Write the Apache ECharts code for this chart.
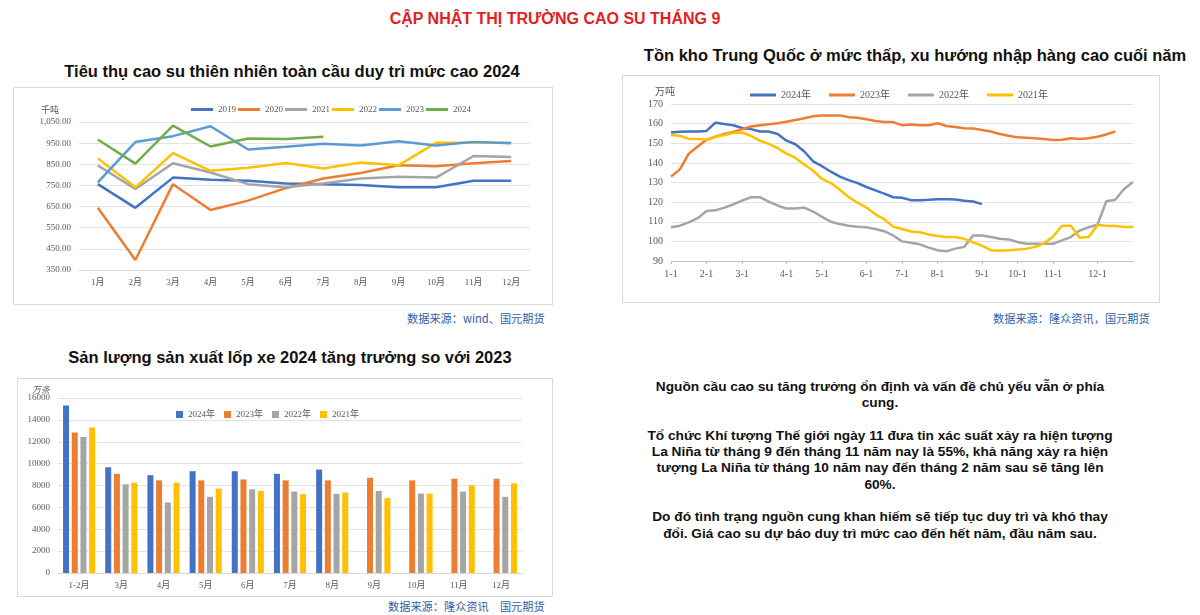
<!DOCTYPE html>
<html>
<head>
<meta charset="utf-8">
<script src="https://cdn.jsdelivr.net/npm/echarts@6/dist/echarts.min.js"></script>
<style>
  body { margin: 0; background: #fff; width: 1200px; height: 615px; position: relative; overflow: hidden; font-family: 'Liberation Sans', Arial, sans-serif; }
  .box { position: absolute; border: 1px solid #d9d9d9; box-sizing: border-box; background: #fff; }
  .ttl { position: absolute; text-align: center; font-weight: bold; font-size: 16.5px; color: #111; white-space: nowrap; }
  .src { position: absolute; font-family: 'Noto Sans CJK SC', sans-serif; font-size: 11.2px; color: #2f5ea8; white-space: nowrap; }
  #note { position: absolute; left: 630px; width: 500px; top: 379px; text-align: center; font-weight: bold; font-size: 13.7px; line-height: 16.3px; color: #111; white-space: nowrap; }
</style>
</head>
<body>
<div class="ttl" style="left:355px;width:400px;top:10px;font-size:16px;color:#e31e24;">CẬP NHẬT THỊ TRƯỜNG CAO SU THÁNG 9</div>

<div class="ttl" style="left:42px;width:500px;top:62px;">Tiêu thụ cao su thiên nhiên toàn cầu duy trì mức cao 2024</div>
<div class="box" id="c1" style="left:13px;top:87px;width:540px;height:218px;"></div>
<div class="src" style="left:407px;top:310px;">数据来源：wind、国元期货</div>

<div class="ttl" style="left:615px;width:600px;top:46px;">Tồn kho Trung Quốc ở mức thấp, xu hướng nhập hàng cao cuối năm</div>
<div class="box" id="c2" style="left:622px;top:75px;width:538px;height:228px;"></div>
<div class="src" style="left:993px;top:310px;">数据来源：隆众资讯，国元期货</div>

<div class="ttl" style="left:40px;width:500px;top:348px;">Sản lượng sản xuất lốp xe 2024 tăng trưởng so với 2023</div>
<div class="box" id="c3" style="left:17px;top:378px;width:536px;height:219px;"></div>
<div class="src" style="left:388px;top:598px;">数据来源：隆众资讯　国元期货</div>

<div id="note">
Nguồn cầu cao su tăng trưởng ổn định và vấn đề chủ yếu vẫn ở phía<br>
cung.<br>
<br>
Tổ chức Khí tượng Thế giới ngày 11 đưa tin xác suất xảy ra hiện tượng<br>
La Niña từ tháng 9 đến tháng 11 năm nay là 55%, khả năng xảy ra hiện<br>
tượng La Niña từ tháng 10 năm nay đến tháng 2 năm sau sẽ tăng lên<br>
60%.<br>
<br>
Do đó tình trạng nguồn cung khan hiếm sẽ tiếp tục duy trì và khó thay<br>
đổi. Giá cao su dự báo duy trì mức cao đến hết năm, đầu năm sau.
</div>

<script>
// ---- chart 1: 全球天然橡胶消费 (千吨)
const months1 = ['1月', '2月', '3月', '4月', '5月', '6月', '7月', '8月', '9月', '10月', '11月', '12月']
const y2019 = [756, 644, 787, 777, 772, 759, 756, 752, 741, 741, 772, 772]
const y2020 = [644, 397, 756, 634, 678, 737, 783, 809, 845, 841, 855, 866]
const y2021 = [845, 733, 855, 811, 756, 741, 759, 783, 791, 787, 889, 884]
const y2022 = [878, 741, 903, 819, 834, 856, 830, 859, 845, 952, 952, 952]
const y2023 = [764, 955, 983, 1030, 920, 933, 947, 939, 959, 939, 956, 950]
const y2024 = [967, 853, 1033, 934, 972, 970, 980]

// ---- chart 2: 中国库存 (万吨), weekly
const monthTicks = ['1-1', '2-1', '3-1', '4-1', '5-1', '6-1', '7-1', '8-1', '9-1', '10-1', '11-1', '12-1']
const monthWeek = [0, 4, 8, 13, 17, 22, 26, 30, 35, 39, 43, 48]
const inv2024 = [155.5, 155.8, 156, 156, 156.3, 160.5, 159.8, 159.2, 157.8, 157.2, 156, 156, 154.7, 151.3, 149.5, 145.8, 140.8, 138.3, 135.5, 133, 131.2, 129.7, 127.7, 126, 124.3, 122.5, 122.2, 121, 121, 121.2, 121.5, 121.5, 121.3, 120.7, 120.3, 119]
const inv2023 = [133, 136.7, 144.7, 148.3, 151.8, 153.3, 154.7, 155.8, 157.2, 158.5, 159.2, 159.7, 160.2, 161, 161.8, 162.7, 163.8, 164.2, 164.2, 164.2, 163.3, 163, 162.2, 161.3, 160.8, 160.8, 159.2, 159.5, 159.2, 159.2, 160.2, 158.8, 158.3, 157.7, 157.5, 156.8, 156, 154.7, 153.8, 153, 152.8, 152.5, 152.2, 151.7, 151.8, 152.5, 152.2, 152.5, 153.3, 154.5, 156]
const inv2022 = [107.2, 108, 109.7, 111.8, 115.5, 115.8, 117.2, 118.8, 120.8, 122.5, 122.5, 120.2, 118.3, 116.7, 116.7, 117.2, 115.2, 112.5, 110, 108.8, 108, 107.5, 107.2, 106.3, 105.2, 103, 100, 99.3, 98.5, 96.8, 95.5, 95, 96.3, 97.2, 103, 103, 102.2, 101.3, 101, 99.7, 98.8, 98.8, 98.8, 98.8, 100.5, 102.2, 105.5, 107.2, 108.5, 120.5, 121.2, 126.7, 130.2]
const inv2021 = [154.2, 153.8, 152.2, 152.2, 151.8, 153.3, 154.2, 155.2, 155.5, 153.8, 151.3, 149.7, 147.5, 144.7, 142.5, 139.2, 136, 131.8, 129.7, 126.3, 122.5, 119.7, 117.2, 113.8, 111.3, 107.5, 106.3, 105, 104.7, 103.5, 102.7, 102.2, 102.2, 101.3, 99.5, 97.8, 95.5, 95.2, 95.5, 95.8, 96.3, 97.2, 99, 102.5, 108, 108, 101.8, 102.2, 108.3, 108, 107.8, 107.3, 107.3]

// ---- chart 3: 轮胎产量 (万条)
const months3 = ['1-2月', '3月', '4月', '5月', '6月', '7月', '8月', '9月', '10月', '11月', '12月']
const tyre2024 = [15310, 9667, 8946, 9306, 9306, 9066, 9456, null, null, null, null]
const tyre2023 = [12849, 9066, 8466, 8466, 8556, 8466, 8466, 8706, 8466, 8616, 8616]
const tyre2022 = [12428, 8105, 6454, 6965, 7655, 7445, 7235, 7505, 7265, 7445, 6965]
const tyre2021 = [13299, 8255, 8255, 7715, 7505, 7205, 7355, 6845, 7265, 8015, 8195]

const serif = "'Liberation Serif', 'Noto Sans CJK SC', serif"
const labelStyle = { fontFamily: serif, fontSize: 9, color: '#595959' }
const gridColor = '#e3e3e3'

const lineSeries = (name, data, color) => ({
  name: name,
  type: 'line',
  data: data,
  showSymbol: false,
  symbol: 'none',
  lineStyle: { width: 2.5, color: color },
  itemStyle: { color: color }
})

// chart 1
const chart1 = echarts.init(document.getElementById('c1'))
chart1.setOption({
  animation: false,
  title: { text: '千吨', left: 22, top: 13, textStyle: { fontFamily: serif, fontSize: 9, fontWeight: 'normal', color: '#595959' } },
  legend: {
    left: 172, top: 12, itemWidth: 22, itemHeight: 3, itemGap: 2, icon: 'rect',
    textStyle: labelStyle
  },
  grid: { left: 65, right: 22, top: 34, bottom: 34 },
  xAxis: {
    type: 'category', data: months1,
    axisLine: { lineStyle: { color: '#d9d9d9' } },
    axisTick: { show: false },
    axisLabel: labelStyle
  },
  yAxis: {
    type: 'value', min: 350, max: 1050, interval: 50,
    axisLine: { show: false }, axisTick: { show: false },
    axisLabel: Object.assign({}, labelStyle, {
      formatter: function (v) {
        // 只显示 350, 450 ... 1050
        if ((v - 350) % 100 !== 0) return ''
        return v.toLocaleString('en-US', { minimumFractionDigits: 2, maximumFractionDigits: 2 })
      }
    }),
    splitLine: { lineStyle: { color: [gridColor, 'rgba(0,0,0,0)'] } }
  },
  series: [
    lineSeries('2019', y2019, '#4472C4'),
    lineSeries('2020', y2020, '#ED7D31'),
    lineSeries('2021', y2021, '#A5A5A5'),
    lineSeries('2022', y2022, '#FFC000'),
    lineSeries('2023', y2023, '#5B9BD5'),
    lineSeries('2024', y2024, '#70AD47')
  ]
})

// chart 2
const weekIdx = inv2022.map((v, i) => String(i))
const chart2 = echarts.init(document.getElementById('c2'))
chart2.setOption({
  animation: false,
  title: { text: '万吨', left: 27, top: 6, textStyle: { fontFamily: serif, fontSize: 10, fontWeight: 'normal', color: '#595959' } },
  legend: {
    left: 122, top: 9, itemWidth: 26, itemHeight: 3, itemGap: 18, icon: 'rect',
    textStyle: { fontFamily: serif, fontSize: 10, color: '#595959' }
  },
  grid: { left: 48, right: 26, top: 28, bottom: 41 },
  xAxis: {
    type: 'category', data: weekIdx, boundaryGap: false,
    axisLine: { lineStyle: { color: '#bfbfbf' } },
    axisTick: { show: true, length: 3, lineStyle: { color: '#bfbfbf' }, interval: function (i) { return monthWeek.indexOf(i) >= 0 } },
    axisLabel: Object.assign({}, labelStyle, {
      fontSize: 10,
      interval: function (i) { return monthWeek.indexOf(i) >= 0 },
      formatter: function (v, i) { return monthTicks[monthWeek.indexOf(i)] || '' }
    })
  },
  yAxis: {
    type: 'value', min: 90, max: 170, interval: 10,
    axisLine: { show: false }, axisTick: { show: false },
    axisLabel: Object.assign({}, labelStyle, { fontSize: 10 }),
    splitLine: { lineStyle: { color: gridColor } }
  },
  series: [
    lineSeries('2024年', inv2024, '#4472C4'),
    lineSeries('2023年', inv2023, '#ED7D31'),
    lineSeries('2022年', inv2022, '#A5A5A5'),
    lineSeries('2021年', inv2021, '#FFC000')
  ]
})

// chart 3
const barSeries = (name, data, color) => ({
  name: name, type: 'bar', data: data, barWidth: 6, barGap: '45%',
  itemStyle: { color: color }
})
const chart3 = echarts.init(document.getElementById('c3'))
chart3.setOption({
  animation: false,
  title: { text: '万条', left: 9, top: 2, textStyle: { fontFamily: serif, fontSize: 9, fontStyle: 'italic', fontWeight: 'normal', color: '#595959' } },
  legend: {
    left: 153, top: 26, itemWidth: 7, itemHeight: 7, itemGap: 9, icon: 'rect',
    textStyle: labelStyle
  },
  grid: { left: 40, right: 30, top: 19, bottom: 23 },
  xAxis: {
    type: 'category', data: months3,
    axisLine: { lineStyle: { color: '#d9d9d9' } },
    axisTick: { show: false },
    axisLabel: labelStyle
  },
  yAxis: {
    type: 'value', min: 0, max: 16000, interval: 2000,
    axisLine: { show: false }, axisTick: { show: false },
    axisLabel: Object.assign({}, labelStyle, { formatter: function (v) { return String(v) } }),
    splitLine: { lineStyle: { color: gridColor } }
  },
  series: [
    barSeries('2024年', tyre2024, '#4472C4'),
    barSeries('2023年', tyre2023, '#ED7D31'),
    barSeries('2022年', tyre2022, '#A5A5A5'),
    barSeries('2021年', tyre2021, '#FFC000')
  ]
})
</script>
</body>
</html>
